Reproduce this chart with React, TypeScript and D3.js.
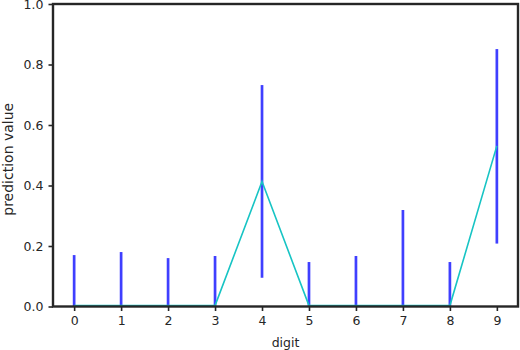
import { useEffect, useRef } from "react"
import * as d3 from "d3"

const digits = [0, 1, 2, 3, 4, 5, 6, 7, 8, 9]
const rangeLow = [0, 0, 0, 0, 0.095, 0, 0, 0, 0, 0.208]
const rangeHigh = [0.17, 0.18, 0.16, 0.167, 0.732, 0.147, 0.167, 0.319, 0.147, 0.851]
const prediction = [0.003, 0.003, 0.003, 0.003, 0.413, 0.003, 0.003, 0.003, 0.003, 0.531]
const yTicks = [0, 0.2, 0.4, 0.6, 0.8, 1.0]

export default function App() {
  const ref = useRef<SVGSVGElement>(null)

  useEffect(() => {
    const svg = d3.select(ref.current)
    svg.selectAll("*").remove()

    // plot area in page coords (svg sits at 0,0 via fixed positioning)
    const margin = { top: 4, right: 2, bottom: 43.5, left: 53 }
    const width = 520 - margin.left - margin.right
    const height = 350 - margin.top - margin.bottom

    const x = d3.scaleLinear().domain([-0.45, 9.45]).range([0, width])
    const y = d3.scaleLinear().domain([0, 1]).range([height, 0])

    const g = svg.append("g")
      .attr("transform", "translate(" + margin.left + "," + margin.top + ")")

    // vertical range lines
    g.selectAll("line.bar").data(digits)
      .enter().append("line")
      .attr("class", "bar")
      .attr("x1", d => x(d))
      .attr("x2", d => x(d))
      .attr("y1", d => y(rangeLow[d]))
      .attr("y2", d => y(rangeHigh[d]))
      .attr("stroke", "#3f3fff")
      .attr("stroke-width", 2.7)

    // prediction line
    const line = d3.line<number>()
      .x(d => x(d))
      .y(d => y(prediction[d]))
    g.append("path")
      .datum(digits)
      .attr("d", line)
      .attr("fill", "none")
      .attr("stroke", "#17c4c4")
      .attr("stroke-width", 1.6)

    // axes
    const xAxis = g.append("g")
      .attr("transform", "translate(0," + height + ")")
      .call(d3.axisBottom(x).tickValues(digits).tickFormat(d3.format("d")).tickSizeOuter(0).tickSize(4.5).tickPadding(5))
    const yAxis = g.append("g")
      .call(d3.axisLeft(y).tickValues(yTicks).tickFormat(d3.format(".1f")).tickSizeOuter(0).tickSize(4.5).tickPadding(5))

    ;[xAxis, yAxis].forEach(a => {
      a.selectAll("text").attr("font-family", "DejaVu Sans").attr("font-size", 12.5).attr("fill", "#262626")
      a.selectAll("line").attr("stroke", "#262626").attr("stroke-width", 1.6)
      a.select(".domain").remove()
    })

    // frame
    g.append("rect")
      .attr("x", 0).attr("y", 0)
      .attr("width", width).attr("height", height)
      .attr("fill", "none")
      .attr("stroke", "#262626")
      .attr("stroke-width", 2.4)

    // axis titles
    svg.append("text")
      .attr("x", margin.left + width / 2)
      .attr("y", 347)
      .attr("text-anchor", "middle")
      .attr("font-family", "DejaVu Sans")
      .attr("font-size", 12.5)
      .attr("fill", "#262626")
      .text("digit")
    svg.append("text")
      .attr("transform", "translate(13," + (margin.top + height / 2 + 4) + ") rotate(-90)")
      .attr("text-anchor", "middle")
      .attr("font-family", "DejaVu Sans")
      .attr("font-size", 14)
      .attr("fill", "#262626")
      .text("prediction value")
  }, [])

  return (
    <svg ref={ref} width={520} height={350}
      style={{ position: "fixed", left: 0, top: 0, background: "#fff" }} />
  )
}
